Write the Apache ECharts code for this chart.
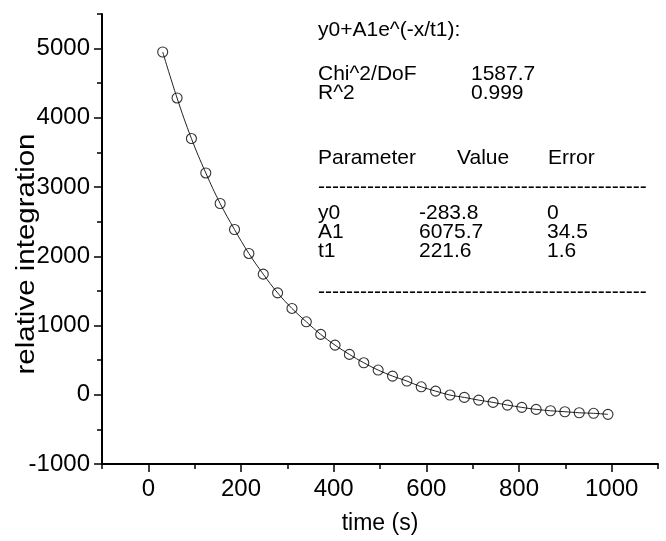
<!DOCTYPE html>
<html>
<head>
<meta charset="utf-8">
<script src="https://cdn.jsdelivr.net/npm/echarts@6/dist/echarts.min.js"></script>
<style>
  html, body { margin: 0; padding: 0; background: #fff; }
  #chart { width: 666px; height: 541px; }
</style>
</head>
<body>
<div id="chart"></div>
<script>
// Measured decay: time (s) and relative integration
const timeValues = [31, 62, 93, 124, 155, 186, 217, 248, 279, 310, 341, 372, 403, 434, 465, 496,
                    527, 558, 589, 620, 651, 682, 713, 744, 775, 806, 837, 868, 899, 930, 961, 992];
const intensities = [4951, 4287, 3701, 3204, 2763, 2387, 2041, 1742, 1472, 1247, 1054, 872, 717, 583, 462, 357,
                     270, 198, 115, 53, -4, -38, -77, -110, -149, -182, -211, -231, -245, -260, -268, -283];

// Axis ticks
const xMajorTicks = [0, 200, 400, 600, 800, 1000];
const xMinorTicks = [-100, 100, 300, 500, 700, 900, 1100];
const yMajorTicks = [-1000, 0, 1000, 2000, 3000, 4000, 5000];
const yMinorTicks = [-500, 500, 1500, 2500, 3500, 4500, 5500];

// Axis titles
const xTitle = 'time (s)';
const yTitle = 'relative integration';

// Fit report text
const fitTitle = 'y0+A1e^(-x/t1):';
const statNames = ['Chi^2/DoF', 'R^2'];
const statValues = ['1587.7', '0.999'];
const tableHeader = ['Parameter', 'Value', 'Error'];
const paramNames = ['y0', 'A1', 't1'];
const paramValues = ['-283.8', '6075.7', '221.6'];
const paramErrors = ['0', '34.5', '1.6'];

const FONT = '"Liberation Sans", Arial, Helvetica, sans-serif';
const points = timeValues.map((t, i) => [t, intensities[i]]);

function txt(text, x, y) {
  return {
    type: 'text', x: x, y: y,
    style: { text: text, fill: '#000', font: '21px ' + FONT, verticalAlign: 'middle', align: 'left' }
  };
}

const dashes = '-'.repeat(47);
const report = [
  txt(fitTitle, 318, 30),
  txt(statNames[0], 318, 74), txt(statValues[0], 471, 74),
  txt(statNames[1], 318, 93), txt(statValues[1], 471, 93),
  txt(tableHeader[0], 318, 158), txt(tableHeader[1], 457, 158), txt(tableHeader[2], 548, 158),
  txt(dashes, 318, 187)
];
paramNames.forEach((n, i) => {
  const y = 213 + i * 19;
  report.push(txt(n, 318, y), txt(paramValues[i], 419, y), txt(paramErrors[i], 547, y));
});
report.push(txt(dashes, 318, 292));

// vertical axis title, drawn rotated and slightly stretched along its reading direction
report.push({
  type: 'text', x: 27, y: 254, rotation: Math.PI / 2, scaleX: 1.18,
  style: { text: yTitle, fill: '#000', font: '25px ' + FONT, align: 'center', verticalAlign: 'middle' }
});

const axisLine = { show: true, onZero: false, lineStyle: { color: '#000', width: 2 } };
const plain = v => String(v);

const option = {
  animation: false,
  backgroundColor: '#fff',
  grid: { left: 102, right: 8, top: 14, bottom: 77, containLabel: false, outerBoundsMode: 'none' },
  xAxis: [{
    type: 'value', min: -100, max: 1100,
    name: xTitle, nameLocation: 'middle', nameGap: 48,
    nameTextStyle: { color: '#000', fontSize: 23, fontFamily: FONT },
    axisLine: axisLine,
    axisTick: { show: true, length: 8, lineStyle: { color: '#000', width: 1.5 }, customValues: xMajorTicks },
    axisLabel: { color: '#000', fontSize: 24, fontFamily: FONT, margin: 13, formatter: plain, customValues: xMajorTicks },
    splitLine: { show: false }
  }, {
    type: 'value', min: -100, max: 1100, position: 'bottom',
    axisLine: { show: false, onZero: false },
    axisTick: { show: true, length: 5, lineStyle: { color: '#000', width: 1.5 }, customValues: xMinorTicks },
    axisLabel: { show: false },
    splitLine: { show: false }
  }],
  yAxis: [{
    type: 'value', min: -1000, max: 5500,
    axisLine: axisLine,
    axisTick: { show: true, length: 8, lineStyle: { color: '#000', width: 1.5 }, customValues: yMajorTicks },
    axisLabel: { color: '#000', fontSize: 24, fontFamily: FONT, margin: 12, formatter: plain, customValues: yMajorTicks },
    splitLine: { show: false }
  }, {
    type: 'value', min: -1000, max: 5500, position: 'left',
    axisLine: { show: false, onZero: false },
    axisTick: { show: true, length: 5, lineStyle: { color: '#000', width: 1.5 }, customValues: yMinorTicks },
    axisLabel: { show: false },
    splitLine: { show: false }
  }],
  series: [{
    name: 'fit',
    type: 'line',
    data: points,
    smooth: 0.4,
    showSymbol: false,
    lineStyle: { color: '#222', width: 1 },
    z: 2
  }, {
    name: 'data',
    type: 'scatter',
    data: points,
    symbol: 'circle',
    symbolSize: 10,
    itemStyle: { color: 'rgba(0,0,0,0)', borderColor: '#000', borderWidth: 1.1 },
    z: 3
  }],
  graphic: report
};

const chart = echarts.init(document.getElementById('chart'), null, { renderer: 'canvas' });
chart.setOption(option);
</script>
</body>
</html>
